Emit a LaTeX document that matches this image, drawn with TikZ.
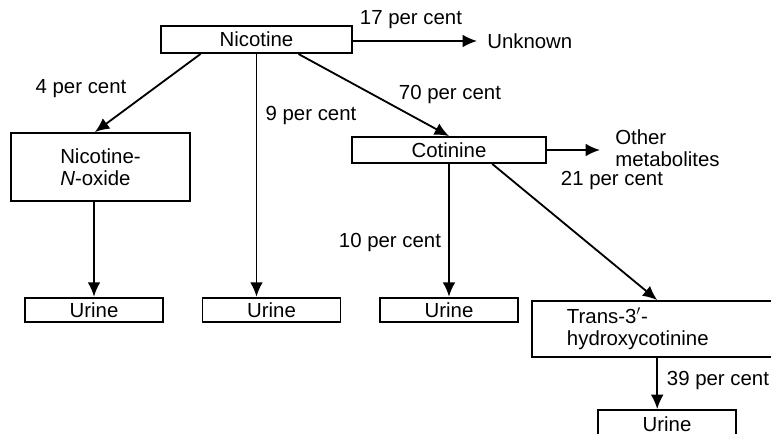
\documentclass[tikz,border=0pt]{standalone}
\usepackage{fontspec}
\setmainfont{Liberation Sans}
\usetikzlibrary{arrows.meta, positioning}

\tikzset{
  box/.style={draw, line width=1.3pt, inner sep=0pt, minimum height=0.62cm},
  urine/.style={box, minimum width=3.45cm},
  flow/.style={line width=1.3pt, -{Latex[length=3.6mm,width=3.2mm]}},
  pct/.style={inner sep=0pt},
}

\begin{document}
\begin{tikzpicture}[x=0.025cm,y=-0.025cm, font=\fontsize{14.5}{16}\selectfont]
\useasboundingbox (0,0) rectangle (771,434);

%%%%%%%%%% boxes
\node[box, minimum width=4.78cm, minimum height=0.68cm] (nic) at (256.5,39.5) {Nicotine};
\node[box, minimum width=4.48cm, minimum height=1.7cm, align=left] (nno) at (100.5,167) {Nicotine-\\\textit{N}-oxide};
\node[box, minimum width=4.85cm, minimum height=0.65cm] (cot) at (449,150) {Cotinine};
\node[box, minimum width=6.1cm, minimum height=1.4cm, inner xsep=0.875cm, text width=4.35cm, align=left] (trans) at (654,329) {Trans-3$'$-\\hydroxycotinine};

\node[urine] (u1) at (94,310) {Urine};
\node[urine] (u2) at (271.5,310) {Urine};
\node[urine] (u3) at (449,310) {Urine};
\node[urine, minimum height=0.7cm] (u4) at (667,424) {Urine};

\node[pct, anchor=west] (unk) at (487,41) {Unknown};
\node[pct, anchor=west, align=left] (oth) at (615,148) {Other\\metabolites};

%%%%%%%%%% flows
\draw[flow] (nic.east |- unk.west) -- ([xshift=-0.25cm]unk.west);
\draw[flow] ([xshift=-1.4cm]nic.south) -- ([xshift=-0.14cm]nno.north);
\draw[flow] (nic.south) -- (nic.south |- u2.north);
\draw[flow] ([xshift=1.05cm]nic.south) -- (cot.north);
\draw[flow] (u1.north |- nno.south) -- (u1.north);
\draw[flow] (cot.east) -- ([xshift=-0.375cm]oth.west |- cot.east);
\draw[flow] (cot.south) -- (u3.north);
\draw[flow] ([xshift=1.08cm]cot.south) -- ([xshift=0.08cm]trans.north);
\draw[flow] ([xshift=0.08cm]trans.south) -- ([xshift=0.08cm]trans.south |- u4.north);

%%%%%%%%%% percentages
\node[pct] (p17) at (411,20) {17 per cent};
\node[pct] (p4) at (81,89) {4 per cent};
\node[pct] (p9) at (311,115) {9 per cent};
\node[pct] (p70) at (450,94) {70 per cent};
\node[pct] (p21) at (612,180) {21 per cent};
\node[pct] (p10) at (390,242) {10 per cent};
\node[pct] (p39) at (718,380) {39 per cent};

\end{tikzpicture}
\end{document}
